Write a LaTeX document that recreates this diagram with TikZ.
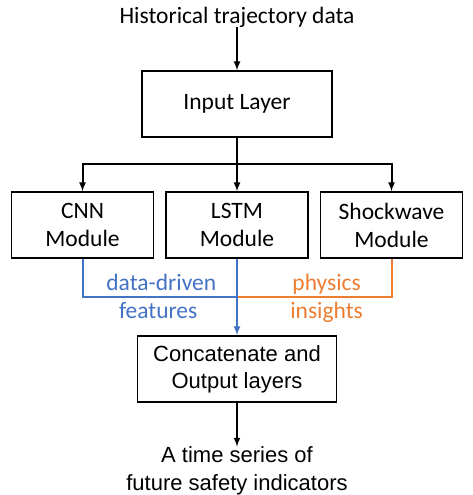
\documentclass[tikz,border=0pt]{standalone}
\usepackage{fontspec}
\setmainfont{Carlito}
\newfontfamily\arialfont{Liberation Sans}
\definecolor{ddblue}{HTML}{4472C4}
\definecolor{phorange}{HTML}{ED7D31}

\begin{document}
\begin{tikzpicture}
\tikzset{node distance=60pt, >=latex,
    block/.style={rectangle, draw, line width=1.5pt, minimum height=66pt, align=center},
    module/.style={block, minimum width=142pt, font=\fontsize{23.5}{28}\selectfont},
    link/.style={line width=2pt},
    txt/.style={align=center, inner sep=0pt},
    tag/.style={inner sep=0pt, text height=17pt, text depth=0pt, font=\fontsize{23.5}{28}\selectfont}
}
  \useasboundingbox (0pt,0pt) rectangle (473pt,-495pt);

  \node[txt, font=\fontsize{23.5}{28}\selectfont] (hist) at (237pt,-17pt) {Historical trajectory data};
  \node[block, minimum width=190pt, below of=hist, node distance=87pt, font=\fontsize{23.5}{28}\selectfont] (input) {Input Layer};
  \node[coordinate, below of=input] (split) {};
  \node[module, below of=input, node distance=121pt] (lstm) {LSTM\\Module};
  \node[module, left of=lstm, node distance=154.5pt] (cnn) {CNN\\Module};
  \node[module, right of=lstm, node distance=154.5pt] (shock) {Shockwave\\Module};
  \node[coordinate, below of=lstm, node distance=72pt] (merge) {};
  \node[block, minimum width=199pt, below of=lstm, node distance=144pt, font=\arialfont\fontsize{22}{27}\selectfont] (concat) {Concatenate and\\Output layers};
  \node[txt, below of=concat, node distance=102pt, font=\arialfont\fontsize{22}{28}\selectfont] (out) {A time series of\\future safety indicators};

  \draw[->, link] (hist) -- (input);
  \draw[link] (input) -- (split);
  \draw[->, link] (split) -| (cnn);
  \draw[->, link] (split) -- (lstm);
  \draw[->, link] (split) -| (shock);
  \draw[link, phorange] (shock) |- (merge)
    node[tag, above=6pt, pos=0.71] {physics}
    node[tag, below=3pt, pos=0.71] {insights};
  \draw[link, ddblue] (cnn) |- (merge)
    node[tag, above=6pt, pos=0.755] {data-driven}
    node[tag, below=3pt, pos=0.745] {features};
  \draw[->, link, ddblue] (lstm) -- (concat);
  \draw[->, link] (concat) -- (out);
\end{tikzpicture}
\end{document}
